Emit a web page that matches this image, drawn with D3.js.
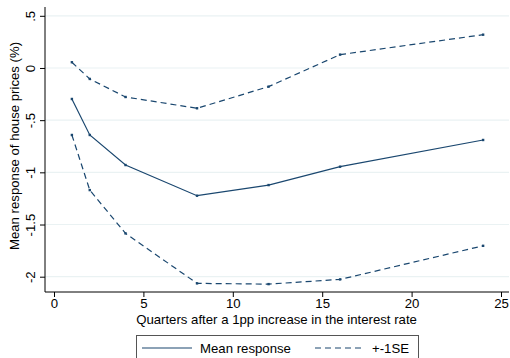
<!DOCTYPE html>
<html>
<head>
<meta charset="utf-8">
<script src="https://cdn.jsdelivr.net/npm/d3@7"></script>
<style>
  body { margin: 0; background: #fff; }
  svg { display: block; font-family: "Liberation Sans", Arial, sans-serif; }
</style>
</head>
<body>
<svg id="chart" width="510" height="358"></svg>
<script>
// Impulse response of house prices to a 1pp interest rate increase
const quarters = [1, 2, 4, 8, 12, 16, 24];
const meanResponse = [-0.297, -0.642, -0.93, -1.224, -1.122, -0.946, -0.69];
const upperSE = [0.055, -0.105, -0.278, -0.386, -0.179, 0.128, 0.319];
const lowerSE = [-0.642, -1.17, -1.585, -2.064, -2.071, -2.026, -1.704];
const xTicks = [0, 5, 10, 15, 20, 25];
const yTicks = [-2, -1.5, -1, -0.5, 0, 0.5];
const yTickLabels = ["-2", "-1.5", "-1", "-.5", "0", ".5"];

const navy = "#1a476f";
const fontSize = 13.2;
const svg = d3.select("#chart");

const plot = { left: 45, right: 509, top: 7, bottom: 292 };
const x = d3.scaleLinear().domain([0, 25]).range([54, 501]);
const y = d3.scaleLinear().domain([-2, 0.5]).range([276.7, 15.8]);

// horizontal grid lines
svg.append("g").selectAll("line").data(yTicks).join("line")
  .attr("x1", plot.left).attr("x2", plot.right)
  .attr("y1", d => y(d)).attr("y2", d => y(d))
  .attr("stroke", "#eaf2f3").attr("stroke-width", 1.2);

// y axis
const yAxis = svg.append("g")
  .attr("transform", `translate(${plot.left},0)`)
  .call(d3.axisLeft(y).tickValues(yTicks).tickSize(5).tickPadding(6)
    .tickFormat((d, i) => yTickLabels[i]));
yAxis.select(".domain").attr("d", `M0,${plot.top}V${plot.bottom}`).attr("stroke", "#000");
yAxis.selectAll(".tick line").attr("stroke", "#000");
yAxis.selectAll(".tick text")
  .attr("font-size", fontSize).attr("fill", "#000")
  .attr("transform", "rotate(-90)")
  .attr("x", 0).attr("y", -15)
  .attr("dy", "0.35em")
  .attr("text-anchor", "middle");

// x axis
const xAxis = svg.append("g")
  .attr("transform", `translate(0,${plot.bottom})`)
  .call(d3.axisBottom(x).tickValues(xTicks).tickSize(5).tickPadding(2));
xAxis.select(".domain").attr("d", `M${plot.left},0H${plot.right}`).attr("stroke", "#000");
xAxis.selectAll(".tick line").attr("stroke", "#000");
xAxis.selectAll(".tick text").attr("font-size", fontSize).attr("fill", "#000");

// axis titles
svg.append("text")
  .attr("transform", "translate(14.5,146) rotate(-90)")
  .attr("text-anchor", "middle").attr("dy", "0.35em")
  .attr("font-size", fontSize).attr("fill", "#000")
  .text("Mean response of house prices (%)");
svg.append("text")
  .attr("x", 276.5).attr("y", 324)
  .attr("text-anchor", "middle")
  .attr("font-size", fontSize).attr("fill", "#000")
  .text("Quarters after a 1pp increase in the interest rate");

// series
const line = d3.line().x((d, i) => x(quarters[i])).y(d => y(d));
const series = [
  { values: upperSE, dash: "6,4" },
  { values: lowerSE, dash: "6,4" },
  { values: meanResponse, dash: null }
];
series.forEach(s => {
  svg.append("path").datum(s.values)
    .attr("d", line).attr("fill", "none")
    .attr("stroke", navy).attr("stroke-width", 1.2)
    .attr("stroke-dasharray", s.dash);
  svg.append("g").selectAll("rect").data(s.values).join("rect")
    .attr("x", (d, i) => x(quarters[i]) - 1.2)
    .attr("y", d => y(d) - 1.2)
    .attr("width", 2.4).attr("height", 2.4)
    .attr("fill", navy);
});

// legend
const lg = svg.append("g");
lg.append("rect").attr("x", 136.5).attr("y", 335.5).attr("width", 282).attr("height", 30)
  .attr("fill", "#fff").attr("stroke", "#555").attr("stroke-width", 1);
lg.append("line").attr("x1", 142).attr("x2", 192).attr("y1", 348).attr("y2", 348)
  .attr("stroke", navy).attr("stroke-width", 1.2);
lg.append("text").attr("x", 200).attr("y", 348).attr("dy", "0.35em")
  .attr("font-size", fontSize).text("Mean response");
lg.append("line").attr("x1", 315).attr("x2", 365).attr("y1", 348).attr("y2", 348)
  .attr("stroke", navy).attr("stroke-width", 1.2).attr("stroke-dasharray", "6,4");
lg.append("text").attr("x", 372).attr("y", 348).attr("dy", "0.35em")
  .attr("font-size", fontSize).text("+-1SE");
</script>
</body>
</html>
